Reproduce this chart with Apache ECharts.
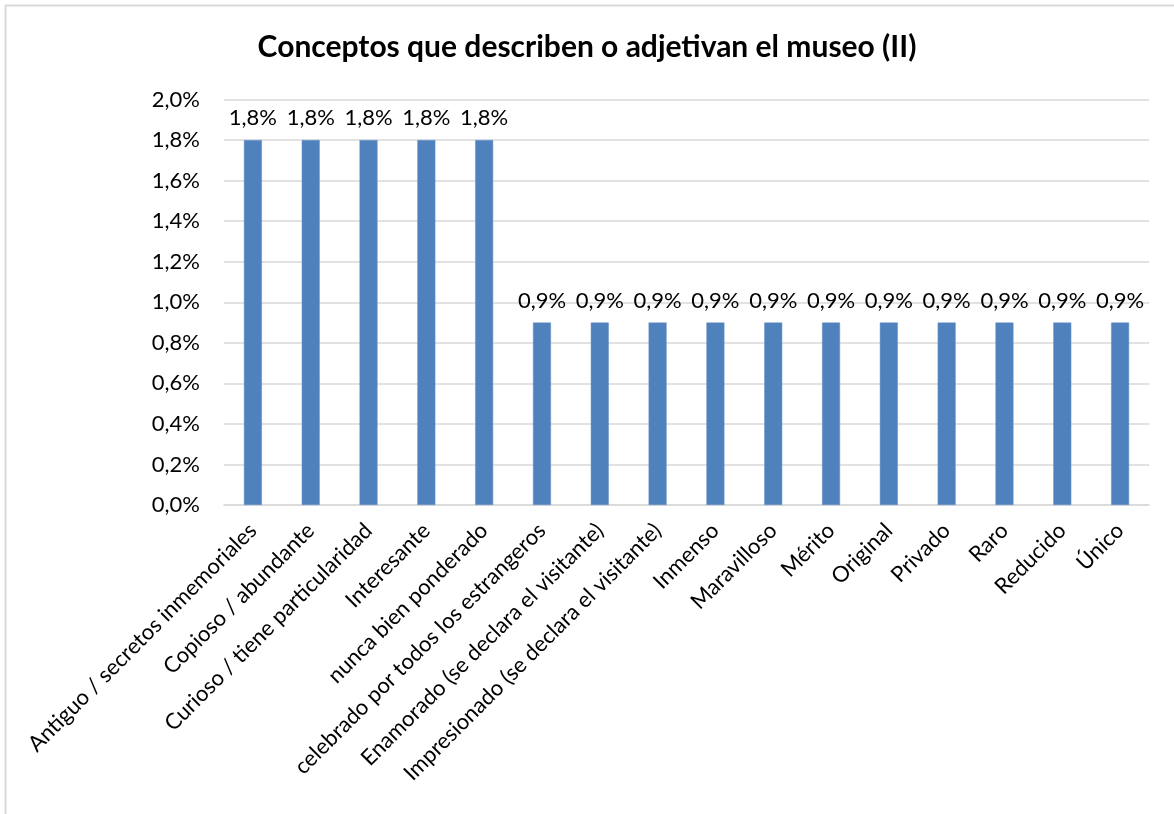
<!DOCTYPE html>
<html>
<head>
<meta charset="utf-8">
<script src="https://cdn.jsdelivr.net/npm/echarts@6/dist/echarts.min.js"></script>
<style>
  html, body { margin: 0; padding: 0; background: #ffffff; }
  #chart { width: 1174px; height: 814px; }
</style>
</head>
<body>
<div id="chart"></div>
<script>
// Categories (concepts) and their share of mentions, in percent
const categories = [
  'Antiguo / secretos inmemoriales',
  'Copioso / abundante',
  'Curioso / tiene particularidad',
  'Interesante',
  'nunca bien ponderado',
  'celebrado por todos los estrangeros',
  'Enamorado (se declara el visitante)',
  'Impresionado (se declara el visitante)',
  'Inmenso',
  'Maravilloso',
  'Mérito',
  'Original',
  'Privado',
  'Raro',
  'Reducido',
  'Único'
];
const values = [1.8, 1.8, 1.8, 1.8, 1.8, 0.9, 0.9, 0.9, 0.9, 0.9, 0.9, 0.9, 0.9, 0.9, 0.9, 0.9];

const titleText = 'Conceptos que describen o adjetivan el museo (II)';
const FONT = 'Lato, "Open Sans", sans-serif';

// Spanish-style percentage: one decimal, comma separator
const fmtPct = v => v.toFixed(1).replace('.', ',') + '%';

const chart = echarts.init(document.getElementById('chart'), null, { renderer: 'canvas' });

chart.setOption({
  backgroundColor: '#ffffff',
  animation: false,
  title: {
    text: titleText,
    left: 'center',
    top: 27,
    textStyle: { fontFamily: FONT, fontWeight: 'bold', fontSize: 30, color: '#000000' }
  },
  graphic: [{
    type: 'rect',
    shape: { x: 5.5, y: 5.5, width: 1180, height: 820 },
    style: { fill: 'none', stroke: '#d9d9d9', lineWidth: 2 },
    silent: true
  }],
  grid: { left: 224, right: 25, top: 99.5, bottom: 309, containLabel: false },
  xAxis: {
    type: 'category',
    data: categories,
    axisLine: { show: true, lineStyle: { color: '#d9d9d9', width: 1.5 } },
    axisTick: { show: false },
    axisLabel: {
      interval: 0,
      rotate: 45,
      margin: 22,
      fontFamily: FONT,
      fontSize: 22,
      color: '#000000'
    }
  },
  yAxis: {
    type: 'value',
    min: 0,
    max: 2.0,
    interval: 0.2,
    axisLine: { show: false },
    axisTick: { show: false },
    splitLine: { lineStyle: { color: '#d9d9d9', width: 1.5 } },
    axisLabel: {
      margin: 24,
      fontFamily: FONT,
      fontSize: 22,
      color: '#000000',
      formatter: v => fmtPct(v)
    }
  },
  series: [{
    type: 'bar',
    data: values,
    barWidth: 18,
    itemStyle: { color: '#4f81bd', borderColor: '#6d95c9', borderWidth: 0.5 },
    label: {
      show: true,
      position: 'top',
      distance: 11,
      fontFamily: FONT,
      fontSize: 22,
      color: '#000000',
      formatter: p => fmtPct(p.value)
    }
  }]
});
</script>
</body>
</html>
